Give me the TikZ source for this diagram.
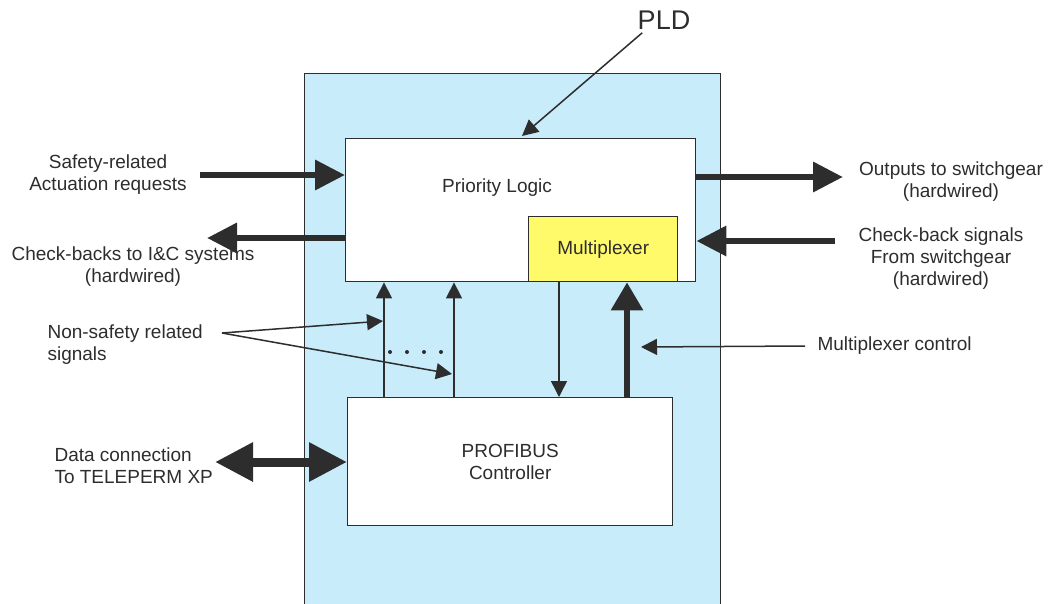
\documentclass[tikz,border=0pt]{standalone}
\usepackage{fontspec}
\setmainfont{Liberation Sans}
\usetikzlibrary{arrows.meta}
\definecolor{pldblue}{RGB}{200,236,250}
\definecolor{muxyellow}{RGB}{255,250,105}
\definecolor{ink}{RGB}{45,45,45}
\tikzset{
  box/.style={draw=ink,fill=white,line width=1.4pt,anchor=north west,inner sep=0pt},
  fat/.style={draw=ink,line width=6.5pt,-{Triangle[length=30pt,width=29pt]}},
  fatup/.style={draw=ink,line width=6pt,-{Triangle[length=28pt,width=31pt]}},
  fatboth/.style={draw=ink,line width=9pt,{Triangle[length=38pt,width=37pt]}-{Triangle[length=38pt,width=37pt]}},
  thin/.style={draw=ink,line width=1.5pt,-{Triangle[length=16pt,width=16pt]}}
}
\begin{document}
\begin{tikzpicture}[x=1pt,y=-1pt,>=stealth,text=ink,font=\fontsize{19}{22}\selectfont]
\useasboundingbox (0,0) rectangle (1050,603);
\clip (0,0) rectangle (1050,603);
% PLD housing and blocks
\node[box,fill=pldblue,minimum width=416pt,minimum height=560pt] (pld) at (304,73) {};
\node[box,minimum width=350pt,minimum height=143pt] (logic) at (345,138) {};
\node (logictxt) at (497,188) {Priority Logic};
\node[box,fill=muxyellow,minimum width=149pt,minimum height=65pt] (mux) at (528,216) {Multiplexer};
\node[box,align=center,minimum width=325pt,minimum height=128pt] (profibus) at (347,397) {PROFIBUS\\Controller};
% labels
\node[font=\fontsize{27}{30}\selectfont] (pldtxt) at (664,20) {PLD};
\node[align=center] (safety) at (108,175) {Safety-related\\Actuation requests};
\node[align=center] (ckic) at (133,267) {Check-backs to I\&C systems\\(hardwired)};
\node[align=center] (outputs) at (951,182) {Outputs to switchgear\\(hardwired)};
\node[align=center] (ckbk) at (941,259) {Check-back signals\\From switchgear\\(hardwired)};
\node[align=left,anchor=west] (nonsafety) at (44,345) {Non-safety related\\signals};
\node[anchor=west] (muxctl) at (814,346) {Multiplexer control};
\node[align=left,anchor=west] (data) at (51,466) {Data connection\\To TELEPERM XP};
% free ends
\coordinate (safe0) at (200,175);
\coordinate (ckic1) at (207,238);
\coordinate (out1) at (843,177);
\coordinate (ckbk0) at (835,241);
\coordinate (ctl1) at (641,347);
\coordinate (nsfork) at (222,333);
\coordinate (ns1) at (383,321);
\coordinate (ns2) at (452,374);
\coordinate (data0) at (215,462);
\coordinate (pldtip) at (522,136);
% connectors
\draw[thin] ([xshift=8pt]pldtxt.south west) -- (pldtip);
\draw[fat] (safe0) -- (safe0 -| logic.west);
\draw[fat] (logic.west |- ckic1) -- (ckic1);
\draw[fat] (logic.east |- out1) -- (out1);
\draw[fat] (ckbk0) -- (ckbk0 -| logic.east);
\foreach \x in {384,454}
  \draw[thin] (profibus.north -| \x,0) -- (logic.south -| \x,0);
\draw[thin] (mux.south -| 559,0) -- (profibus.north -| 559,0);
\draw[fatup] (profibus.north -| 627,0) -- (mux.south -| 627,0);
\draw[thin] ([xshift=-9pt]muxctl.west) -- (ctl1);
\draw[thin] (nsfork) -- (ns1);
\draw[thin] (nsfork) -- (ns2);
\foreach \x in {390,407,424,441}
  \fill[ink] (\x,352) circle (2pt);
\draw[fatboth] (data0) -- (data0 -| profibus.west);
\end{tikzpicture}
\end{document}
